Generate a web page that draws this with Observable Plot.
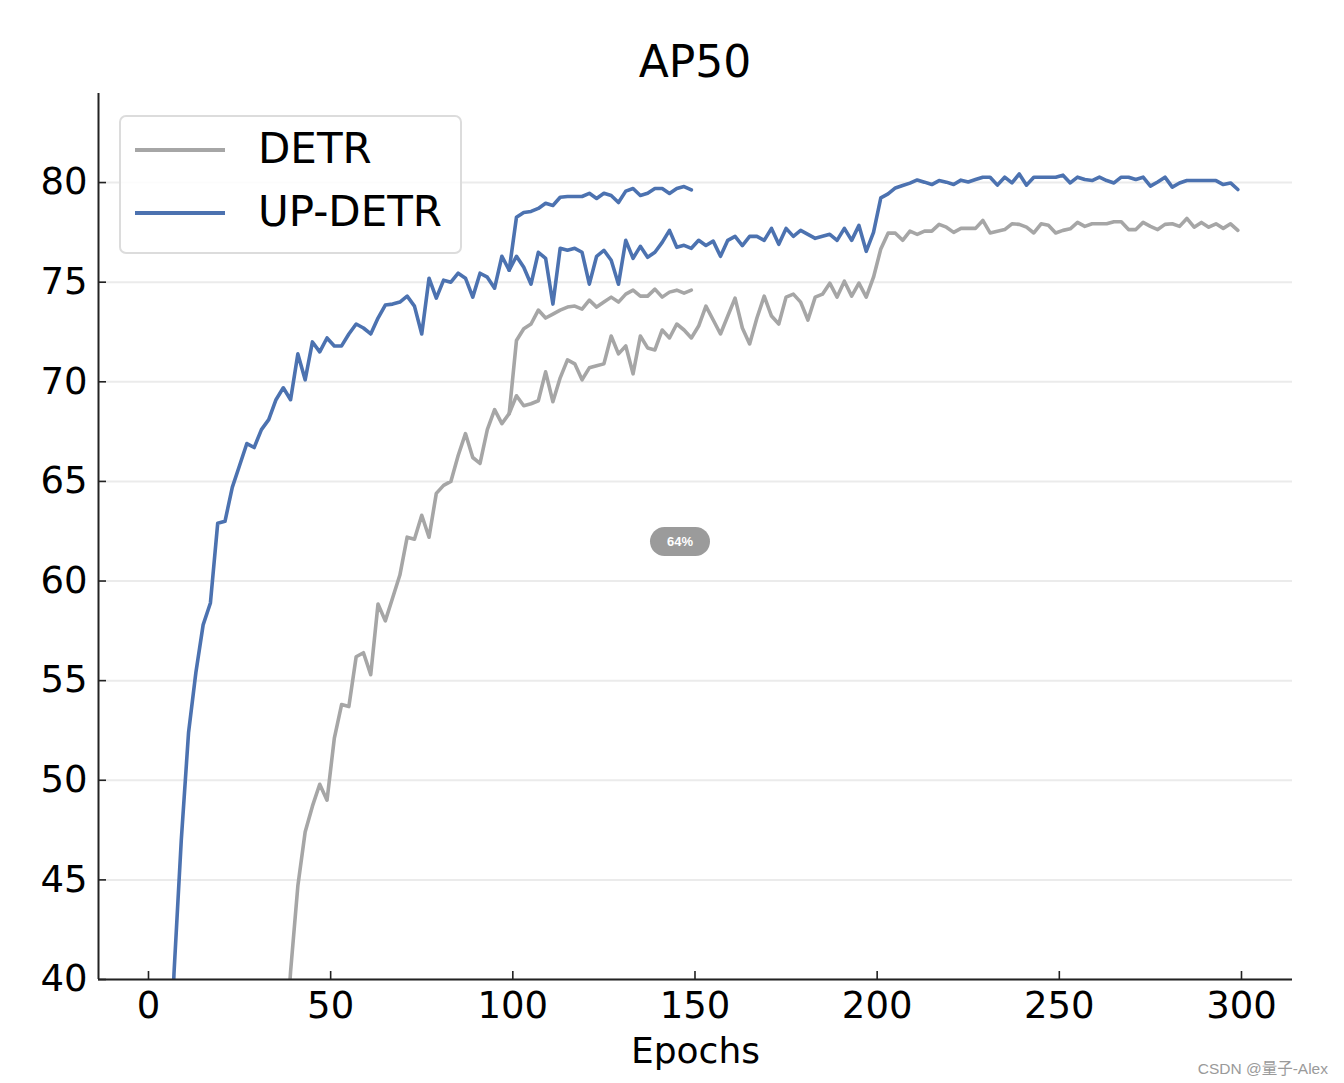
<!DOCTYPE html>
<html>
<head>
<meta charset="utf-8">
<script src="https://cdn.jsdelivr.net/npm/d3@7"></script>
<script src="https://cdn.jsdelivr.net/npm/@observablehq/plot@0.6"></script>
<style>
  html, body { margin: 0; padding: 0; background: #fff; }
  #wrap { position: relative; width: 1344px; height: 1083px; overflow: hidden; font-family: "DejaVu Sans", sans-serif; }
  #title { position: absolute; left: 98px; width: 1194px; top: 40px; line-height: 44px; font-size: 44px; text-align: center; color: #000; }
  #chart { position: absolute; left: 0; top: 93px; }
  #legend { position: absolute; left: 119px; top: 115px; width: 339px; height: 135px; border: 2px solid #dcdcdc; border-radius: 7px; background: rgba(255,255,255,0.85); }
  .lg-line { position: absolute; left: 14px; width: 90px; height: 4px; }
  .lg-text { position: absolute; left: 137px; font-size: 42px; line-height: 42px; color: #000; white-space: nowrap; }
  #wm { position: absolute; right: 16px; top: 1056px; font-family: "Liberation Sans", "Noto Sans CJK SC", sans-serif; font-size: 15.5px; color: #9a9a9a; white-space: nowrap; }
  #badge { position: absolute; left: 650px; top: 527px; width: 60px; height: 29px; border-radius: 15px; background: #9b9b9b; color: #fff; font-family: "Liberation Sans", sans-serif; font-size: 13px; font-weight: bold; line-height: 29px; text-align: center; }
</style>
</head>
<body>
<div id="wrap">
  <div id="title"></div>
  <div id="chart"></div>
  <div id="legend"></div>
  <div id="badge">64%</div>
  <div id="wm">CSDN @量子-Alex</div>
</div>
<script>
// ---- data (AP50 per evaluation, every 2 epochs) ----
const titleText = "AP50";
const xLabel = "Epochs";
const seriesNames = ["DETR", "UP-DETR"];
const xTicks = [0, 50, 100, 150, 200, 250, 300];
const yTicks = [40, 45, 50, 55, 60, 65, 70, 75, 80];

// UP-DETR, 300-epoch schedule (first epoch 5, step 2)
const upStart300 = 5;
const updetr300 = [31, 40.3, 47.0, 52.4, 55.4, 57.8, 58.9, 62.9, 63.0, 64.7,
  65.8, 66.9, 66.7, 67.6, 68.1, 69.1, 69.7, 69.1, 71.4, 70.1,
  72.0, 71.5, 72.2, 71.8, 71.8, 72.4, 72.9, 72.7, 72.4, 73.2,
  73.85, 73.9, 74.0, 74.3, 73.8, 72.4, 75.2, 74.2, 75.1, 75.0,
  75.45, 75.2, 74.25, 75.45, 75.25, 74.7, 76.3, 75.6, 76.3, 75.75,
  74.9, 76.5, 76.2, 73.9, 76.7, 76.6, 76.7, 76.5, 74.9, 76.3,
  76.6, 76.1, 74.9, 77.1, 76.2, 76.8, 76.25, 76.5, 77.0, 77.6,
  76.75, 76.85, 76.7, 77.1, 76.84, 77.06, 76.3, 77.1, 77.3, 76.84,
  77.3, 77.3, 77.1, 77.7, 76.9, 77.7, 77.3, 77.6, 77.4, 77.2,
  77.3, 77.4, 77.1, 77.7, 77.1, 77.85, 76.55, 77.5, 79.23, 79.43,
  79.73, 79.85, 79.97, 80.13, 80.02, 79.9, 80.1, 80.02, 79.9, 80.12,
  80.03, 80.15, 80.27, 80.27, 79.87, 80.27, 79.98, 80.43, 79.87, 80.27,
  80.27, 80.27, 80.27, 80.37, 79.98, 80.27, 80.15, 80.1, 80.27, 80.1,
  79.98, 80.27, 80.27, 80.15, 80.27, 79.82, 80.03, 80.27, 79.77, 79.98,
  80.1, 80.1, 80.1, 80.1, 80.1, 79.9, 79.98, 79.65];

// UP-DETR, 150-epoch schedule, from the branch point (epoch 99, step 2)
const upStart150 = 99;
const updetr150 = [75.6, 78.26, 78.5, 78.55, 78.7, 78.96, 78.85, 79.26, 79.3, 79.3,
  79.3, 79.46, 79.2, 79.46, 79.35, 79.0, 79.57, 79.7, 79.35, 79.46,
  79.7, 79.7, 79.45, 79.7, 79.8, 79.63];

// DETR, 300-epoch schedule (first epoch 37, step 2)
const detrStart300 = 37;
const detr300 = [35, 40.4, 44.7, 47.4, 48.7, 49.8, 49.0, 52.1, 53.8, 53.7,
  56.2, 56.4, 55.3, 58.85, 58.0, 59.15, 60.3, 62.2, 62.1, 63.3,
  62.2, 64.4, 64.8, 65.0, 66.3, 67.4, 66.2, 65.9, 67.6, 68.6,
  67.9, 68.4, 69.3, 68.8, 68.9, 69.05, 70.5, 69.0, 70.2, 71.1,
  70.9, 70.1, 70.7, 70.8, 70.9, 72.3, 71.4, 71.8, 70.4, 72.3,
  71.7, 71.6, 72.6, 72.2, 72.9, 72.6, 72.2, 72.8, 73.8, 73.1,
  72.4, 73.3, 74.2, 72.7, 71.9, 73.2, 74.3, 73.3, 72.9, 74.25,
  74.4, 74.0, 73.1, 74.25, 74.4, 74.95, 74.25, 75.05, 74.3, 74.95,
  74.25, 75.25, 76.67, 77.46, 77.46, 77.1, 77.56, 77.4, 77.56, 77.56,
  77.9, 77.76, 77.5, 77.7, 77.7, 77.7, 78.1, 77.47, 77.56, 77.64,
  77.93, 77.9, 77.76, 77.47, 77.93, 77.86, 77.47, 77.6, 77.68, 78.0,
  77.8, 77.93, 77.93, 77.93, 78.03, 78.03, 77.64, 77.64, 78.0, 77.8,
  77.64, 77.9, 77.93, 77.8, 78.2, 77.76, 78.0, 77.76, 77.93, 77.7,
  77.93, 77.6];

// DETR, 150-epoch schedule, from the branch point (epoch 99, step 2)
const detrStart150 = 99;
const detr150 = [68.4, 72.07, 72.66, 72.9, 73.6, 73.2, 73.4, 73.6, 73.75, 73.8,
  73.65, 74.1, 73.75, 74.0, 74.25, 74.0, 74.4, 74.6, 74.3, 74.3,
  74.65, 74.25, 74.5, 74.6, 74.45, 74.6];

// ---- styling ----
const GRAY = "#a6a6a6";
const BLUE = "#4c72b0";
const AXIS = "#222";
const xDomain = [-13.72, 314.0];
const yDomain = [40, 84.47];

const toRows = (start, vals) => vals.map((v, i) => ({epoch: start + 2 * i, ap: v}));

document.getElementById("title").textContent = titleText;

const lineOpts = (stroke) => ({x: "epoch", y: "ap", stroke, strokeWidth: 3.6, clip: true, strokeLinejoin: "round"});

const chart = Plot.plot({
  width: 1344,
  height: 990,
  marginTop: 0,
  marginLeft: 98,
  marginRight: 52,
  marginBottom: 104,
  style: {fontFamily: "DejaVu Sans, sans-serif", fontSize: "37px", color: "#000", background: "transparent", overflow: "visible"},
  x: {domain: xDomain},
  y: {domain: yDomain},
  marks: [
    Plot.ruleY(yTicks, {stroke: "#ebebeb", strokeWidth: 2}),
    Plot.line(toRows(detrStart300, detr300), lineOpts(GRAY)),
    Plot.line(toRows(detrStart150, detr150), lineOpts(GRAY)),
    Plot.line(toRows(upStart300, updetr300), lineOpts(BLUE)),
    Plot.line(toRows(upStart150, updetr150), lineOpts(BLUE)),
    Plot.ruleX([xDomain[0]], {stroke: AXIS, strokeWidth: 2}),
    Plot.ruleY([yDomain[0]], {stroke: AXIS, strokeWidth: 2}),
    Plot.axisX({ticks: xTicks, tickSize: 8, dy: -8, text: null, label: null, stroke: AXIS, strokeWidth: 1.6}),
    Plot.axisY({ticks: yTicks, tickSize: 8, dx: 8, text: null, label: null, stroke: AXIS, strokeWidth: 1.6}),
    Plot.axisX({ticks: xTicks, tickSize: 0, tickPadding: 12, fontSize: 37, tickFormat: d => String(d), label: null}),
    Plot.axisY({ticks: yTicks, tickSize: 0, tickPadding: 11, fontSize: 37, tickFormat: d => String(d), label: null}),
    Plot.text([xLabel], {frameAnchor: "bottom", dy: 83, lineAnchor: "bottom", fontSize: 36, fill: "#000"})
  ]
});
document.getElementById("chart").appendChild(chart);

// legend
const legend = document.getElementById("legend");
const legendItems = [{name: seriesNames[0], color: GRAY}, {name: seriesNames[1], color: BLUE}];
legendItems.forEach((it, i) => {
  const ln = document.createElement("div");
  ln.className = "lg-line";
  ln.style.top = (31 + i * 63) + "px";
  ln.style.background = it.color;
  legend.appendChild(ln);
  const tx = document.createElement("div");
  tx.className = "lg-text";
  tx.style.top = (11 + i * 63) + "px";
  tx.textContent = it.name;
  legend.appendChild(tx);
});
</script>
</body>
</html>
